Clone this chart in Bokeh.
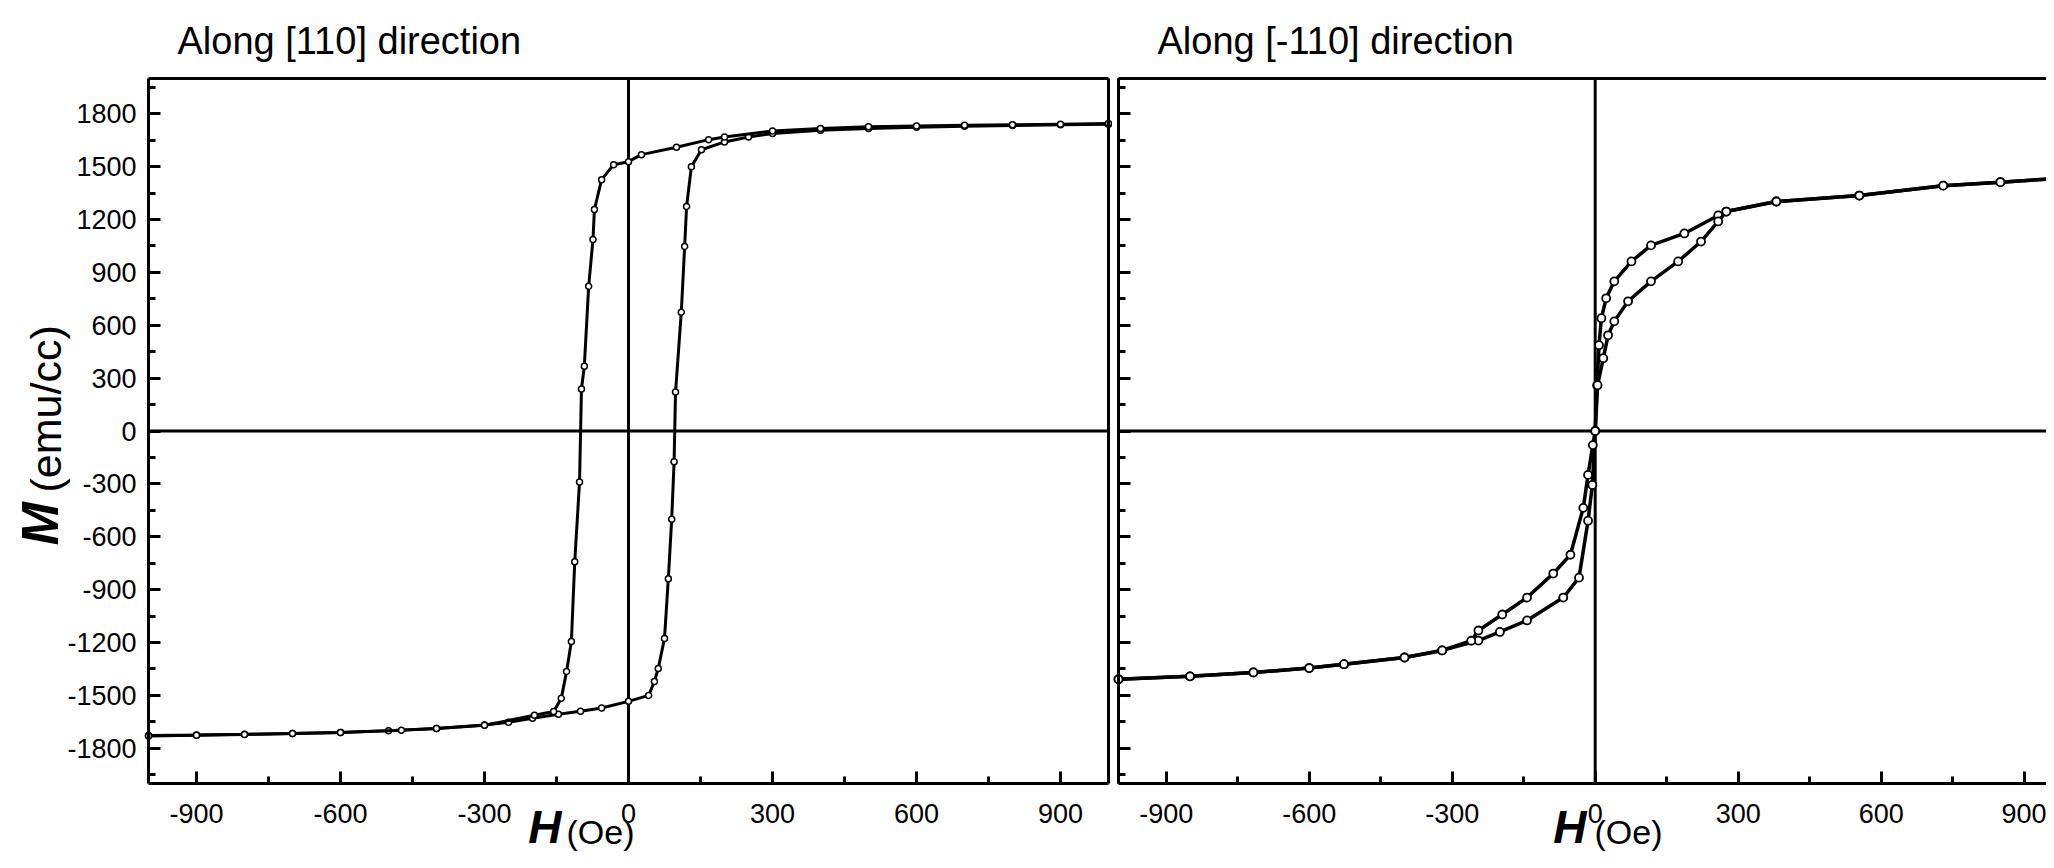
from math import pi
from bokeh.plotting import figure
from bokeh.layouts import row
from bokeh.models import Range1d, FixedTicker, LinearAxis, Label
from bokeh.embed import file_html
from bokeh.resources import INLINE

FONT = "Liberation Sans"
NARROW = "Liberation Sans Narrow, Liberation Sans"

# ---------------- data ----------------
x_major = [-900, -600, -300, 0, 300, 600, 900]
x_minor = [-750, -450, -150, 150, 450, 750]
y_major = [-1800, -1500, -1200, -900, -600, -300, 0, 300, 600, 900, 1200, 1500, 1800]
y_minor = [-1950, -1650, -1350, -1050, -750, -450, -150, 150, 450, 750, 1050, 1350, 1650, 1950]

h_lim = (-1000, 1000)        # H axis limits (Oe)
m_lim = (-2000, 2000)        # M axis limits (emu/cc)

title_left = "Along [110] direction"
title_right = "Along [-110] direction"

# Along [110]: increasing-field branch
h110_asc = [-1000, -900, -800, -700, -600, -500, -400, -300, -250, -200,
            -146, -100, -56, 0, 42, 54, 62, 75, 83, 90,
            95, 98, 110, 117, 121, 131, 152, 200, 250, 300,
            400, 500, 600, 700, 800, 900, 1000]
m110_asc = [-1728, -1725, -1721, -1716, -1710, -1700, -1688, -1668, -1652, -1630,
            -1607, -1590, -1572, -1534, -1500, -1421, -1347, -1177, -838, -500,
            -175, 221, 674, 1047, 1274, 1500, 1596, 1640, 1668, 1688,
            1706, 1716, 1724, 1729, 1733, 1737, 1740]
# Along [110]: decreasing-field branch
h110_desc = [1000, 900, 800, 700, 600, 500, 400, 300, 200, 167,
             100, 27, 0, -31, -56, -71, -74, -83, -92, -98,
             -102, -112, -119, -129, -140, -156, -196, -300, -400, -473,
             -600, -700, -800, -900, -1000]
m110_desc = [1744, 1741, 1738, 1735, 1731, 1726, 1717, 1702, 1668, 1653,
             1610, 1568, 1528, 1511, 1426, 1257, 1087, 821, 368, 238,
             -289, -742, -1194, -1364, -1517, -1591, -1613, -1670, -1688, -1698,
             -1710, -1717, -1722, -1726, -1730]

# Along [-110]: decreasing-field branch
hm110_desc = [1000, 963, 850, 730, 554, 380, 275, 258, 187, 117,
              76, 40, 23, 13, 8, 4, 0, -6, -15, -34,
              -67, -143, -200, -245, -321, -400, -527, -600, -717, -850,
              -1000]
mm110_desc = [1445, 1432, 1412, 1392, 1336, 1302, 1245, 1223, 1121, 1053,
              962, 849, 753, 640, 487, 260, 0, -306, -509, -832,
              -945, -1075, -1140, -1189, -1245, -1285, -1323, -1345, -1370, -1392,
              -1409]
# Along [-110]: increasing-field branch
hm110_asc = [-1000, -850, -717, -600, -527, -400, -321, -260, -245, -195,
             -143, -88, -52, -25, -15, -5, 0, 5, 17, 27,
             40, 69, 117, 174, 222, 258, 275, 380, 554, 730,
             850, 963, 1000]
mm110_asc = [-1409, -1392, -1370, -1345, -1323, -1285, -1245, -1190, -1132, -1041,
             -945, -809, -702, -436, -249, -80, 0, 260, 413, 543,
             622, 736, 849, 962, 1075, 1189, 1245, 1302, 1336, 1392,
             1412, 1432, 1445]

# ---------------- layout (pixels) ----------------
FIG_H = 852
PAD_TOP, PAD_BOTTOM = 78, 69
px_per_m = (FIG_H - PAD_TOP - PAD_BOTTOM) / (m_lim[1] - m_lim[0])
y_start = m_lim[0] - PAD_BOTTOM / px_per_m
y_end = m_lim[1] + PAD_TOP / px_per_m


def make_axis(loc, bounds, ticks, minor, tick_in, minor_in, labels=False, standoff=12):
    ax = LinearAxis(fixed_location=loc, bounds=bounds,
                    ticker=FixedTicker(ticks=list(ticks), minor_ticks=list(minor)))
    ax.axis_line_width = 3
    ax.axis_line_color = "black"
    ax.major_tick_line_width = 3
    ax.minor_tick_line_width = 3
    ax.major_tick_line_color = "black"
    ax.minor_tick_line_color = "black"
    ax.major_tick_in = tick_in
    ax.major_tick_out = 0
    ax.minor_tick_in = minor_in
    ax.minor_tick_out = 0
    if labels:
        ax.major_label_text_font = FONT
        ax.major_label_text_font_size = "27px"
        ax.major_label_text_color = "black"
        ax.major_label_standoff = standoff
        ax.major_label_overrides = {t: str(t) for t in ticks}
    return ax


def make_fig(width, pad_left, h_start, px_per_oe):
    xs = h_start - pad_left / px_per_oe
    xe = xs + width / px_per_oe
    p = figure(width=width, height=FIG_H, x_range=Range1d(xs, xe), y_range=Range1d(y_start, y_end),
               output_backend="svg", toolbar_location=None,
               x_axis_location=None, y_axis_location=None,
               min_border_left=0, min_border_right=0, min_border_top=0, min_border_bottom=0)
    p.grid.visible = False
    p.outline_line_color = None
    p.background_fill_color = "white"
    p.border_fill_color = "white"
    return p, xe


def zero_lines(p, h0, h1):
    p.segment(x0=[h0], y0=[0], x1=[h1], y1=[0], line_color="black", line_width=3)
    p.segment(x0=[0], y0=[m_lim[0]], x1=[0], y1=[m_lim[1]], line_color="black", line_width=3)


def add_text(p, x, y, text, size, style="normal", angle=0.0, align="left", font=FONT):
    p.add_layout(Label(x=x, y=y, x_units="screen", y_units="screen", text=text, angle=angle,
                       text_font=font, text_font_size=size, text_font_style=style,
                       text_color="black", text_baseline="middle", text_align=align))


# ---------------- left panel ----------------
p1, _ = make_fig(1112, 148, h_lim[0], 0.48)
zero_lines(p1, *h_lim)
p1.add_layout(make_axis(m_lim[0], h_lim, x_major, x_minor, 12, 7, True, 20), "below")
p1.add_layout(make_axis(h_lim[0], m_lim, y_major, y_minor, 12, 7, True, 12), "left")
p1.add_layout(make_axis(m_lim[1], h_lim, [], [], 0, 0), "above")
p1.add_layout(make_axis(h_lim[1], m_lim, [], [], 0, 0), "right")

for hx, my in ((h110_asc, m110_asc), (h110_desc, m110_desc)):
    p1.line(hx, my, line_color="black", line_width=3)
    p1.scatter(hx, my, marker="circle", size=6, fill_color="white",
               line_color="black", line_width=1.5)

add_text(p1, 177, 812, title_left, "38px")
add_text(p1, 561, 26, "H", "46px", "bold italic", align="right", font=NARROW)
add_text(p1, 566, 21, "(Oe)", "34px", font=NARROW)
add_text(p1, 39, 307, "M", "52px", "bold italic", angle=pi / 2)
add_text(p1, 45, 360, "(emu/cc)", "43px", angle=pi / 2)

# ---------------- right panel ----------------
p2, h_end_right = make_fig(934, 6, h_lim[0], 0.4767)
h_lim_right = (h_lim[0], h_end_right)
zero_lines(p2, *h_lim_right)
p2.add_layout(make_axis(m_lim[0], h_lim_right, x_major, x_minor, 12, 7, True, 20), "below")
p2.add_layout(make_axis(h_lim[0], m_lim, [], y_major, 0, 12), "left")
p2.add_layout(make_axis(h_lim[0], m_lim, [], y_minor, 0, 7), "left")
p2.add_layout(make_axis(m_lim[1], h_lim_right, [], [], 0, 0), "above")

for hx, my in ((hm110_desc, mm110_desc), (hm110_asc, mm110_asc)):
    p2.line(hx, my, line_color="black", line_width=3.5)
    p2.scatter(hx, my, marker="circle", size=8, fill_color="white",
               line_color="black", line_width=1.8)

add_text(p2, 45, 812, title_right, "38px")
add_text(p2, 474, 26, "H", "46px", "bold italic", align="right", font=NARROW)
add_text(p2, 482, 21, "(Oe)", "34px", font=NARROW)

layout = row(p1, p2, spacing=0)
open("out.html", "w").write(file_html(layout, INLINE))
